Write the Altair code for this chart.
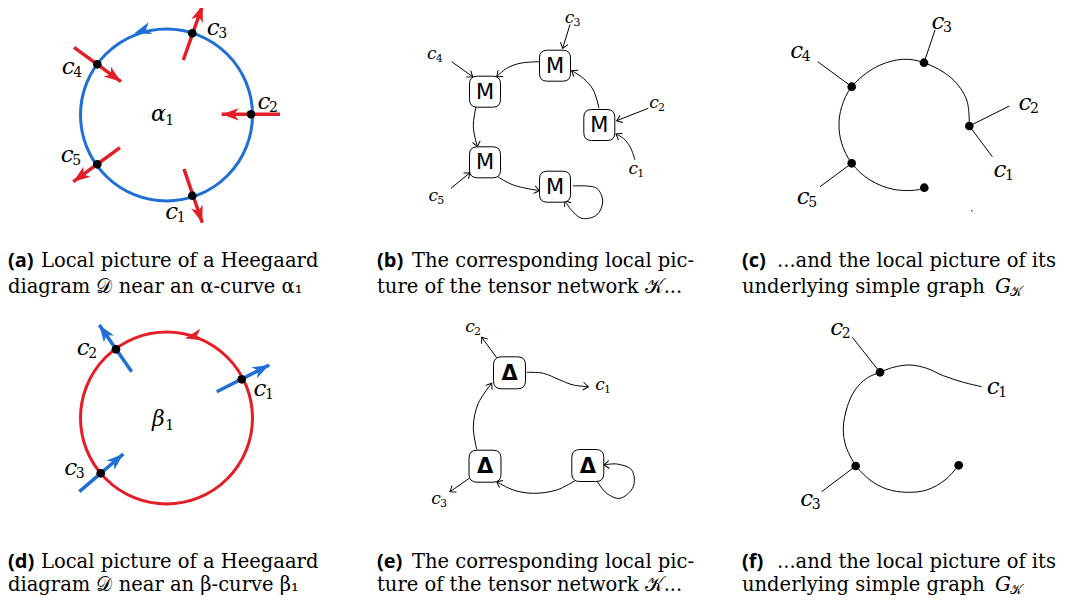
import math
import altair as alt
import pandas as pd

W, H = 1059, 590
X0, Y0 = 8, 8
BLUE = "#1f6fd6"
RED = "#e31e26"

# ---------------- data (image pixel coords) ----------------
circle_x = [166.5, 166.5]
circle_y = [115, 418]
circle_d = [172, 172]
circle_color = [BLUE, RED]

dot_x = [192.3, 251, 192.3, 97.3, 97.3,          # (a)
         241.7, 116, 100.7,                        # (d)
         924, 851.7, 969.3, 851.7, 924.3,          # (c)
         880, 855.7, 958.7]                        # (f)
dot_y = [195.7, 114.3, 33.3, 64.3, 164.3,
         379.3, 349.3, 473.3,
         62.7, 86.7, 126, 163.3, 187.7,
         372.3, 466, 465.3]

thick_bx = [184, 280, 183.3, 74, 120, 216.7, 131.7, 79.3]
thick_by = [169, 114.3, 60, 47.3, 147.7, 391.7, 371.7, 491.7]
thick_tx = [202.3, 221.7, 202.7, 121, 73.3, 269.3, 99.3, 123.3]
thick_ty = [222.7, 114.3, 5, 81.7, 181.7, 365, 325, 454]
thick_col = [RED] * 5 + [BLUE] * 3

orient_tail_x = [146.7, 200]
orient_tail_y = [29.3, 335]
orient_tip_x = [134.3, 185]
orient_tip_y = [33.3, 338.3]
orient_col = [BLUE, RED]

m_x = [555, 485, 599.3, 485, 555]
m_y = [65.7, 91.7, 125, 162.3, 186.7]
delta_x = [509.5, 485, 587.8]
delta_y = [372.8, 466.2, 465.5]

curves = {
    "b_c3": ([570, 562.7], [24.5, 48.3], True),
    "b_c4": ([451.7, 472.7], [61.7, 76.7], True),
    "b_c2": ([648.3, 616.7], [108.3, 120.7], True),
    "b_c1": ([635, 630, 623.3, 616], [160, 146.7, 138.3, 134], True),
    "b_r_t": ([599, 593.3, 583.3, 571.7], [108.3, 90, 78.3, 70.7], True),
    "b_t_lt": ([539.3, 520, 506.7, 496.7], [61.7, 63.3, 68.3, 76.7], True),
    "b_lt_lb": ([476, 473.3, 477.3], [106.7, 126.7, 146.7], True),
    "b_lb_b": ([497.7, 513.3, 539.3], [176.7, 185, 190.7], True),
    "b_c5": ([451, 470], [188.3, 172.7], True),
    "b_loop": ([572.7, 596.7, 602.7, 596.7, 581.7, 570, 565],
               [186, 188.3, 201.7, 215, 218.3, 208.3, 200.5], True),
    "e_c2": ([496.7, 481.7], [357.7, 337.3], True),
    "e_c1": ([526.7, 543.3, 560, 573.3, 588.3], [372.3, 373.3, 380, 385, 386.7], True),
    "e_l_t": ([476.7, 473.3, 478.3, 491.7], [449.3, 426.7, 403.3, 383.3], True),
    "e_r_l": ([575, 556.7, 533.3, 513.3, 496.7], [480.7, 490, 493.3, 490, 481.7], True),
    "e_c3": ([469.3, 450], [478.3, 491.7], True),
    "e_loop": ([596.7, 606.7, 620, 633.3, 631.7, 616.7, 604],
               [480.7, 493.3, 498.3, 486.7, 470, 464, 465], True),
    "c_arc": ([969.3, 966.7, 951.7, 924, 903.3, 876.7, 851.7, 841.7, 839, 841.7,
               851.7, 870, 893.3, 916.7, 924.3],
              [126, 100, 78.3, 62.7, 59.3, 66.7, 86.7, 106.7, 125, 143.3,
               163.3, 180, 189.3, 190, 187.7], False),
    "c_c3": ([924, 935], [62.7, 30], False),
    "c_c4": ([851.7, 817.7], [86.7, 61.7], False),
    "c_c2": ([969.3, 1009.3], [126, 106], False),
    "c_c1": ([969.3, 992.3], [126, 156.7], False),
    "c_c5": ([851.7, 820], [163.3, 186.7], False),
    "f_left": ([880, 866.7, 855, 847.3, 843.3, 846, 855.7],
               [372.3, 378.3, 390, 406.7, 428.3, 446.7, 466], False),
    "f_bottom": ([855.7, 870, 886.7, 906.7, 926.7, 945, 958.7],
                 [466, 480, 489, 492.3, 490, 480, 465.3], False),
    "f_top": ([880, 893.3, 910, 926.7, 943.3, 963.3, 981.7],
              [372.3, 367.3, 365, 368.3, 375.7, 382.3, 386.7], False),
    "f_c2": ([880, 852.3], [372.3, 337.3], False),
    "f_c3": ([855.7, 821.7], [466, 491.7], False),
}

speck_x = [971.7]
speck_y = [210.7]

big_lab_x = [171.7, 264, 213.3, 68.3, 67.3,  260, 83.3, 70.7,
             1000, 1025, 938, 796.7, 803.3,  993.3, 836.7, 806.7]
big_lab_y = [213.3, 103.3, 29, 68.3, 156,  390, 349.3, 469.3,
             170.7, 104, 23, 51.7, 198.3,  388.3, 329, 500]
big_lab_sub = ["1", "2", "3", "4", "5", "1", "2", "3",
               "1", "2", "3", "4", "5", "1", "2", "3"]
small_lab_x = [633.3, 654, 569.5, 431.7, 433.3, 600, 470, 436]
small_lab_y = [170, 104, 18.5, 55, 196.7, 386, 328.3, 500]
small_lab_sub = ["1", "2", "3", "4", "5", "1", "2", "3"]

greek_x = [158.3, 158.3]
greek_y = [115, 420]
greek_txt = ["α", "β"]
greek_sub = ["1", "1"]

cap_tag_x = [8, 377, 742, 8, 377, 742]
cap_tag_y = [267, 267, 267, 568, 568, 568]
cap_tag = ["(a)", "(b)", "(c)", "(d)", "(e)", "(f)"]
cap1_x = [41, 412, 777, 41, 412, 777]
cap1_y = cap_tag_y
cap1 = ["Local picture of a Heegaard", "The corresponding local pic-",
        "...and the local picture of its", "Local picture of a Heegaard",
        "The corresponding local pic-", "...and the local picture of its"]
cap2_x = [8, 377, 742, 8, 377, 742]
cap2_y = [293, 293, 293, 591, 591, 591]
cap2 = ["diagram 𝒟 near an α-curve α₁", "ture of the tensor network 𝒦...",
        "underlying simple graph", "diagram 𝒟 near an β-curve β₁",
        "ture of the tensor network 𝒦...", "underlying simple graph"]
g_x = [995, 995]
g_y = [293, 591]

# ---------------- helpers ----------------
def ang(x0, y0, x1, y1):
    return (math.degrees(math.atan2(x1 - x0, -(y1 - y0))) + 360) % 360

XS = alt.Scale(domain=[X0, X0 + W], nice=False, zero=False)
YS = alt.Scale(domain=[Y0, Y0 + H], nice=False, zero=False, reverse=True)
def ex(f="x"):
    return alt.X(f"{f}:Q", scale=XS, axis=None)
def ey(f="y"):
    return alt.Y(f"{f}:Q", scale=YS, axis=None)

STEALTH = "M0,0 L0.72,2 L0,1.45 L-0.72,2 Z"
CHEVRON = "M-1.1,1.45 Q-0.4,0.55 0,0 Q0.4,0.55 1.1,1.45"
RBOX = ("M-0.5,-1 L0.5,-1 Q1,-1 1,-0.5 L1,0.5 Q1,1 0.5,1 L-0.5,1 "
        "Q-1,1 -1,0.5 L-1,-0.5 Q-1,-1 -0.5,-1 Z")
CIRC = "circle"

# ---------------- tables ----------------
circles = pd.DataFrame(dict(x=circle_x, y=circle_y, s=[d * d for d in circle_d], c=circle_color))
dots = pd.DataFrame(dict(x=dot_x, y=dot_y))
thick = pd.DataFrame(dict(x=thick_bx, y=thick_by, x2=thick_tx, y2=thick_ty, c=thick_col))
thick_heads = pd.DataFrame(dict(
    x=thick_tx + orient_tip_x, y=thick_ty + orient_tip_y,
    a=[ang(a, b, c, d) for a, b, c, d in zip(thick_bx + orient_tail_x, thick_by + orient_tail_y,
                                              thick_tx + orient_tip_x, thick_ty + orient_tip_y)],
    c=thick_col + orient_col))

rows, heads = [], []
for name, (xs, ys, arrow) in curves.items():
    for i, (x, y) in enumerate(zip(xs, ys)):
        rows.append(dict(curve=name, o=i, x=x, y=y))
    if arrow:
        heads.append(dict(x=xs[-1], y=ys[-1], a=ang(xs[-2], ys[-2], xs[-1], ys[-1])))
curve_df = pd.DataFrame(rows)
thin_heads = pd.DataFrame(heads)

mboxes = pd.DataFrame(dict(x=m_x, y=m_y, t=["M"] * len(m_x)))
dboxes = pd.DataFrame(dict(x=delta_x, y=delta_y, t=["Δ"] * len(delta_x)))
big_lab = pd.DataFrame(dict(x=big_lab_x, y=big_lab_y, t=["c"] * len(big_lab_x), s=big_lab_sub))
small_lab = pd.DataFrame(dict(x=small_lab_x, y=small_lab_y, t=["c"] * len(small_lab_x), s=small_lab_sub))
greek = pd.DataFrame(dict(x=greek_x, y=greek_y, t=greek_txt, s=greek_sub))
tags = pd.DataFrame(dict(x=cap_tag_x, y=cap_tag_y, t=cap_tag))
c1df = pd.DataFrame(dict(x=cap1_x, y=cap1_y, t=cap1))
c2df = pd.DataFrame(dict(x=cap2_x, y=cap2_y, t=cap2))
gdf = pd.DataFrame(dict(x=g_x, y=g_y, t=["G", "G"], s=["𝒦", "𝒦"]))
speck = pd.DataFrame(dict(x=speck_x, y=speck_y))

# ---------------- layers ----------------
SERIF = "DejaVu Serif"
layers = []
layers.append(alt.Chart(circles).mark_point(shape=CIRC, filled=False, strokeWidth=3, opacity=1).encode(
    x=ex(), y=ey(), size=alt.Size("s:Q", scale=None), color=alt.Color("c:N", scale=None)))
layers.append(alt.Chart(thick).mark_rule(strokeWidth=3.5, strokeCap="butt").encode(
    x=ex(), y=ey(), x2=alt.X2("x2:Q"), y2=alt.Y2("y2:Q"), color=alt.Color("c:N", scale=None)))
layers.append(alt.Chart(thick_heads).mark_point(shape=STEALTH, filled=True, size=289, opacity=1, strokeWidth=0).encode(
    x=ex(), y=ey(), angle=alt.Angle("a:Q", scale=None), color=alt.Color("c:N", scale=None)))
layers.append(alt.Chart(curve_df).mark_line(interpolate="catmull-rom", color="black", strokeWidth=1).encode(
    x=ex(), y=ey(), detail="curve:N", order="o:Q"))
layers.append(alt.Chart(thin_heads).mark_point(shape=CHEVRON, filled=False, size=50, color="black",
                                               strokeWidth=1, opacity=1).encode(
    x=ex(), y=ey(), angle=alt.Angle("a:Q", scale=None)))
layers.append(alt.Chart(dots).mark_point(shape=CIRC, filled=True, size=75, color="black", opacity=1).encode(
    x=ex(), y=ey()))
layers.append(alt.Chart(speck).mark_point(shape=CIRC, filled=True, size=3, color="#555555", opacity=1).encode(
    x=ex(), y=ey()))
for df, sz, fw in [(mboxes, 961, "normal"), (dboxes, 1024, "bold")]:
    layers.append(alt.Chart(df).mark_point(shape=RBOX, filled=True, fill="white", stroke="black",
                                           strokeWidth=1, size=sz, opacity=1).encode(x=ex(), y=ey()))
    layers.append(alt.Chart(df).mark_text(font="DejaVu Sans", fontSize=21, fontWeight=fw, color="black",
                                          align="center", baseline="middle", dy=1).encode(
        x=ex(), y=ey(), text="t:N"))
layers.append(alt.Chart(big_lab).mark_text(font=SERIF, fontStyle="italic", fontSize=23, align="center",
                                           baseline="alphabetic", dy=6, color="black").encode(
    x=ex(), y=ey(), text="t:N"))
layers.append(alt.Chart(big_lab).mark_text(font=SERIF, fontSize=14, align="left",
                                           baseline="alphabetic", dx=5, dy=9, color="black").encode(
    x=ex(), y=ey(), text="s:N"))
layers.append(alt.Chart(small_lab).mark_text(font=SERIF, fontStyle="italic", fontSize=17, align="center",
                                             baseline="alphabetic", dy=4, color="black").encode(
    x=ex(), y=ey(), text="t:N"))
layers.append(alt.Chart(small_lab).mark_text(font=SERIF, fontSize=11, align="left",
                                             baseline="alphabetic", dx=4, dy=7, color="black").encode(
    x=ex(), y=ey(), text="s:N"))
layers.append(alt.Chart(greek).mark_text(font=SERIF, fontStyle="italic", fontSize=22, align="center",
                                         baseline="alphabetic", dy=6, color="black").encode(
    x=ex(), y=ey(), text="t:N"))
layers.append(alt.Chart(greek).mark_text(font=SERIF, fontSize=14, align="left",
                                         baseline="alphabetic", dx=7, dy=10, color="black").encode(
    x=ex(), y=ey(), text="s:N"))
layers.append(alt.Chart(tags).mark_text(font="Open Sans", fontWeight="bold", fontSize=20, align="left",
                                        baseline="alphabetic", color="black").encode(
    x=ex(), y=ey(), text="t:N"))
for df in (c1df, c2df):
    layers.append(alt.Chart(df).mark_text(font=SERIF, fontSize=19.5, align="left",
                                          baseline="alphabetic", color="black").encode(
        x=ex(), y=ey(), text="t:N"))
layers.append(alt.Chart(gdf).mark_text(font=SERIF, fontStyle="italic", fontSize=20, align="left",
                                       baseline="alphabetic", color="black").encode(
    x=ex(), y=ey(), text="t:N"))
layers.append(alt.Chart(gdf).mark_text(font=SERIF, fontSize=13, align="left",
                                       baseline="alphabetic", dx=15, dy=3, color="black").encode(
    x=ex(), y=ey(), text="s:N"))

chart = alt.layer(*layers).properties(
    width=W, height=H, padding=0, autosize=alt.AutoSizeParams(type="none")
).configure_view(strokeWidth=0)

chart.save("out.html", embed_options={"renderer": "svg", "actions": False})
